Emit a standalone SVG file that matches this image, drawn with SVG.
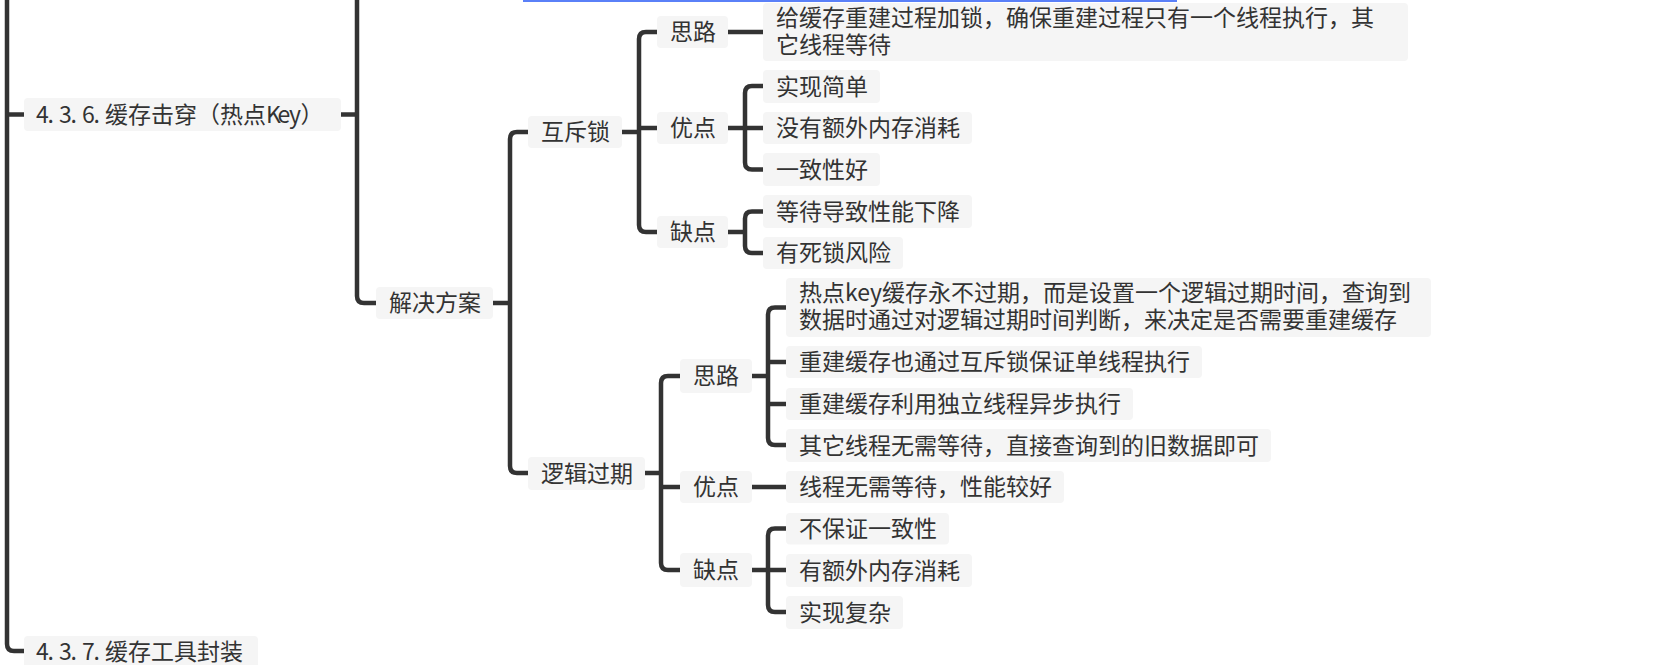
<svg xmlns="http://www.w3.org/2000/svg" width="1655" height="665" viewBox="0 0 1655 665">
<style>
.bg{fill:#ffffff}
.n rect{fill:#f5f5f5}
.n text{font-family:"Noto Sans CJK SC","Noto Sans",sans-serif;font-size:23px;fill:#333333}
.c path{fill:none;stroke:#333333;stroke-width:4.5;stroke-linecap:butt;stroke-linejoin:round}
</style>
<rect class="bg" x="0" y="0" width="1655" height="665"/>
<rect x="523" y="0" width="654" height="2" fill="#5a80f8"/>
<g class="c" id="connectors">
<path d="M7,0 V644 Q7,651 14,651 H24"/>
<path d="M7,114.5 H24"/>
<path d="M341,114.5 H357"/>
<path d="M357,0 V296 Q357,303 364,303 H376"/>
<path d="M493,303 H510"/>
<path d="M528,132 H517 Q510,132 510,139 V466 Q510,473 517,473 H528"/>
<path d="M622,132 H639"/>
<path d="M657,32 H646 Q639,32 639,39 V225 Q639,232 646,232 H657"/>
<path d="M639,128 H657"/>
<path d="M728,32 H763"/>
<path d="M728,128 H763"/>
<path d="M763,86 H752 Q745,86 745,93 V162.5 Q745,169.5 752,169.5 H763"/>
<path d="M728,232 H745"/>
<path d="M763,211.5 H752 Q745,211.5 745,218.5 V246 Q745,253 752,253 H763"/>
<path d="M645,473 H661"/>
<path d="M680,376 H668 Q661,376 661,383 V563 Q661,570 668,570 H680"/>
<path d="M661,487 H680"/>
<path d="M752,376 H768"/>
<path d="M786,307.5 H775 Q768,307.5 768,314.5 V438 Q768,445 775,445 H786"/>
<path d="M768,362 H786"/>
<path d="M768,404 H786"/>
<path d="M752,487 H786"/>
<path d="M752,570 H786"/>
<path d="M786,528.5 H775 Q768,528.5 768,535.5 V605 Q768,612 775,612 H786"/>
</g>
<g class="n" id="n436"><rect x="24" y="98" width="317" height="33" rx="4"/><text x="36 47.5 59 70.5 82 93.5 105 128 151 174 197 220 243 266 277.5 289 300.5" y="123">4.3.6.缓存击穿（热点Key）</text></g>
<g class="n" id="n437"><rect x="24" y="636" width="234" height="33" rx="4"/><text x="36 47.5 59 70.5 82 93.5 105" y="660">4.3.7.缓存工具封装</text></g>
<g class="n" id="n_jjfa"><rect x="376" y="287" width="117" height="32" rx="4"/><text x="389" y="311">解决方案</text></g>
<g class="n" id="n_hcs"><rect x="528" y="116" width="94" height="32" rx="4"/><text x="541" y="140">互斥锁</text></g>
<g class="n" id="n_sl1"><rect x="657" y="16" width="71" height="32" rx="4"/><text x="670" y="40">思路</text></g>
<g class="n" id="n_desc1"><rect x="763" y="3" width="645" height="58" rx="4"/><text><tspan x="776" y="25.5">给缓存重建过程加锁，确保重建过程只有一个线程执行，其</tspan><tspan x="776" y="52.5">它线程等待</tspan></text></g>
<g class="n" id="n_yd1"><rect x="657" y="112" width="71" height="32" rx="4"/><text x="670" y="136">优点</text></g>
<g class="n" id="n_sxjd"><rect x="763" y="70" width="117" height="33" rx="4"/><text x="776" y="94.5">实现简单</text></g>
<g class="n" id="n_mywe"><rect x="763" y="112" width="209" height="32" rx="4"/><text x="776" y="136">没有额外内存消耗</text></g>
<g class="n" id="n_yzxh"><rect x="763" y="153" width="117" height="33" rx="4"/><text x="776" y="177.5">一致性好</text></g>
<g class="n" id="n_qd1"><rect x="657" y="216" width="71" height="32" rx="4"/><text x="670" y="240">缺点</text></g>
<g class="n" id="n_ddxn"><rect x="763" y="195" width="209" height="33" rx="4"/><text x="776" y="219.5">等待导致性能下降</text></g>
<g class="n" id="n_ysfx"><rect x="763" y="237" width="140" height="32" rx="4"/><text x="776" y="261">有死锁风险</text></g>
<g class="n" id="n_ljgq"><rect x="528" y="457" width="117" height="33" rx="4"/><text x="541" y="481.5">逻辑过期</text></g>
<g class="n" id="n_sl2"><rect x="680" y="359" width="72" height="34" rx="4"/><text x="693" y="384">思路</text></g>
<g class="n" id="n_yd2"><rect x="680" y="471" width="72" height="32" rx="4"/><text x="693" y="495">优点</text></g>
<g class="n" id="n_qd2"><rect x="680" y="553" width="72" height="34" rx="4"/><text x="693" y="578">缺点</text></g>
<g class="n" id="n_rdkey"><rect x="786" y="278" width="645" height="59" rx="4"/><text><tspan x="799" y="300.5">热点key缓存永不过期，而是设置一个逻辑过期时间，查询到</tspan><tspan x="799" y="327.5">数据时通过对逻辑过期时间判断，来决定是否需要重建缓存</tspan></text></g>
<g class="n" id="n_cjye"><rect x="786" y="346" width="416" height="32" rx="4"/><text x="799" y="370">重建缓存也通过互斥锁保证单线程执行</text></g>
<g class="n" id="n_cjly"><rect x="786" y="388" width="347" height="32" rx="4"/><text x="799" y="412">重建缓存利用独立线程异步执行</text></g>
<g class="n" id="n_qtxc"><rect x="786" y="429" width="485" height="33" rx="4"/><text x="799" y="453.5">其它线程无需等待，直接查询到的旧数据即可</text></g>
<g class="n" id="n_xcwx"><rect x="786" y="471" width="278" height="32" rx="4"/><text x="799" y="495">线程无需等待，性能较好</text></g>
<g class="n" id="n_bbzy"><rect x="786" y="513" width="163" height="31.5" rx="4"/><text x="799" y="536.5">不保证一致性</text></g>
<g class="n" id="n_yewn"><rect x="786" y="554" width="186" height="33" rx="4"/><text x="799" y="578.5">有额外内存消耗</text></g>
<g class="n" id="n_sxfz"><rect x="786" y="596" width="117" height="33" rx="4"/><text x="799" y="620.5">实现复杂</text></g>
</svg>
